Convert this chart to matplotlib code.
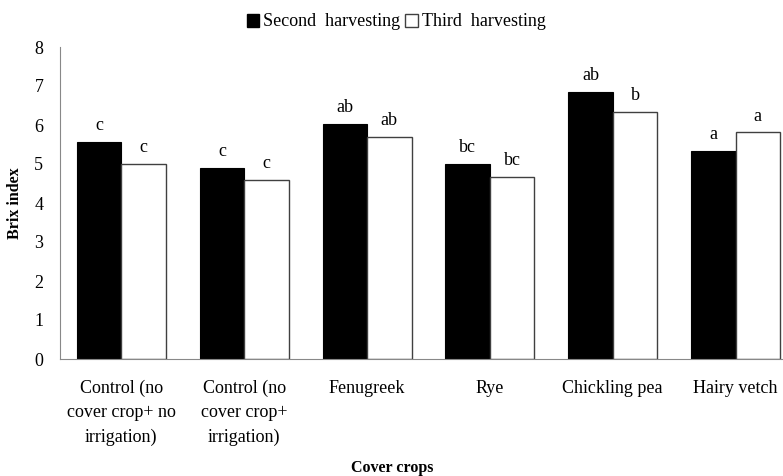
import matplotlib.pyplot as plt
import numpy as np
from matplotlib.patches import Patch

plt.rcParams['font.family'] = ['Liberation Serif', 'DejaVu Serif']

categories = ["Control (no\ncover crop+ no\nirrigation)", "Control (no\ncover crop+\nirrigation)",
              "Fenugreek", "Rye", "Chickling pea", "Hairy vetch"]
second = [5.56, 4.89, 6.03, 5.0, 6.85, 5.33]
third = [5.0, 4.59, 5.70, 4.67, 6.33, 5.81]
second_letters = ["c", "c", "ab", "bc", "ab", "a"]
third_letters = ["c", "c", "ab", "bc", "b", "a"]

fig = plt.figure(figsize=(7.83, 4.76), dpi=100)
ax = fig.add_axes([60 / 783, 1 - 359 / 476, 737 / 783, 312 / 476])

x = np.arange(len(categories))
w = 0.362
ax.bar(x - w / 2, second, w, color='black', edgecolor='black', linewidth=0.8)
ax.bar(x + w / 2, third, w, color='white', edgecolor='#404040', linewidth=1.0)

for xi, v, t in zip(x, second, second_letters):
    ax.text(xi - w / 2, v + 0.2, t, ha='center', va='bottom', fontsize=13)
for xi, v, t in zip(x, third, third_letters):
    ax.text(xi + w / 2, v + 0.2, t, ha='center', va='bottom', fontsize=13)

ax.set_xlim(-0.5, 5.5)
ax.set_ylim(0, 8)
ax.set_yticks(range(0, 9))
ax.set_xticks(x)
ax.set_xticklabels(categories, fontsize=13, linespacing=1.55)
ax.tick_params(axis='both', length=0, labelsize=13)
ax.tick_params(axis='x', pad=15)
ax.tick_params(axis='y', pad=12)
for s in ['top', 'right']:
    ax.spines[s].set_visible(False)
for s in ['left', 'bottom']:
    ax.spines[s].set_color('#888888')

ax.set_ylabel("Brix index", fontsize=11.5, fontweight='bold', labelpad=8)
fig.text(392 / 783, 1 - 468 / 476, "Cover crops", ha='center', va='center',
         fontsize=11.5, fontweight='bold')

handles = [Patch(facecolor='black', edgecolor='black'),
           Patch(facecolor='white', edgecolor='#404040')]
fig.legend(handles, ["Second  harvesting", "Third  harvesting"], loc='center',
           bbox_to_anchor=(396 / 783, 1 - 22 / 476), ncol=2, frameon=False,
           fontsize=13, handlelength=0.7, handleheight=0.7, handletextpad=0.2,
           columnspacing=0.3)

fig.savefig("out.png", dpi=100)
